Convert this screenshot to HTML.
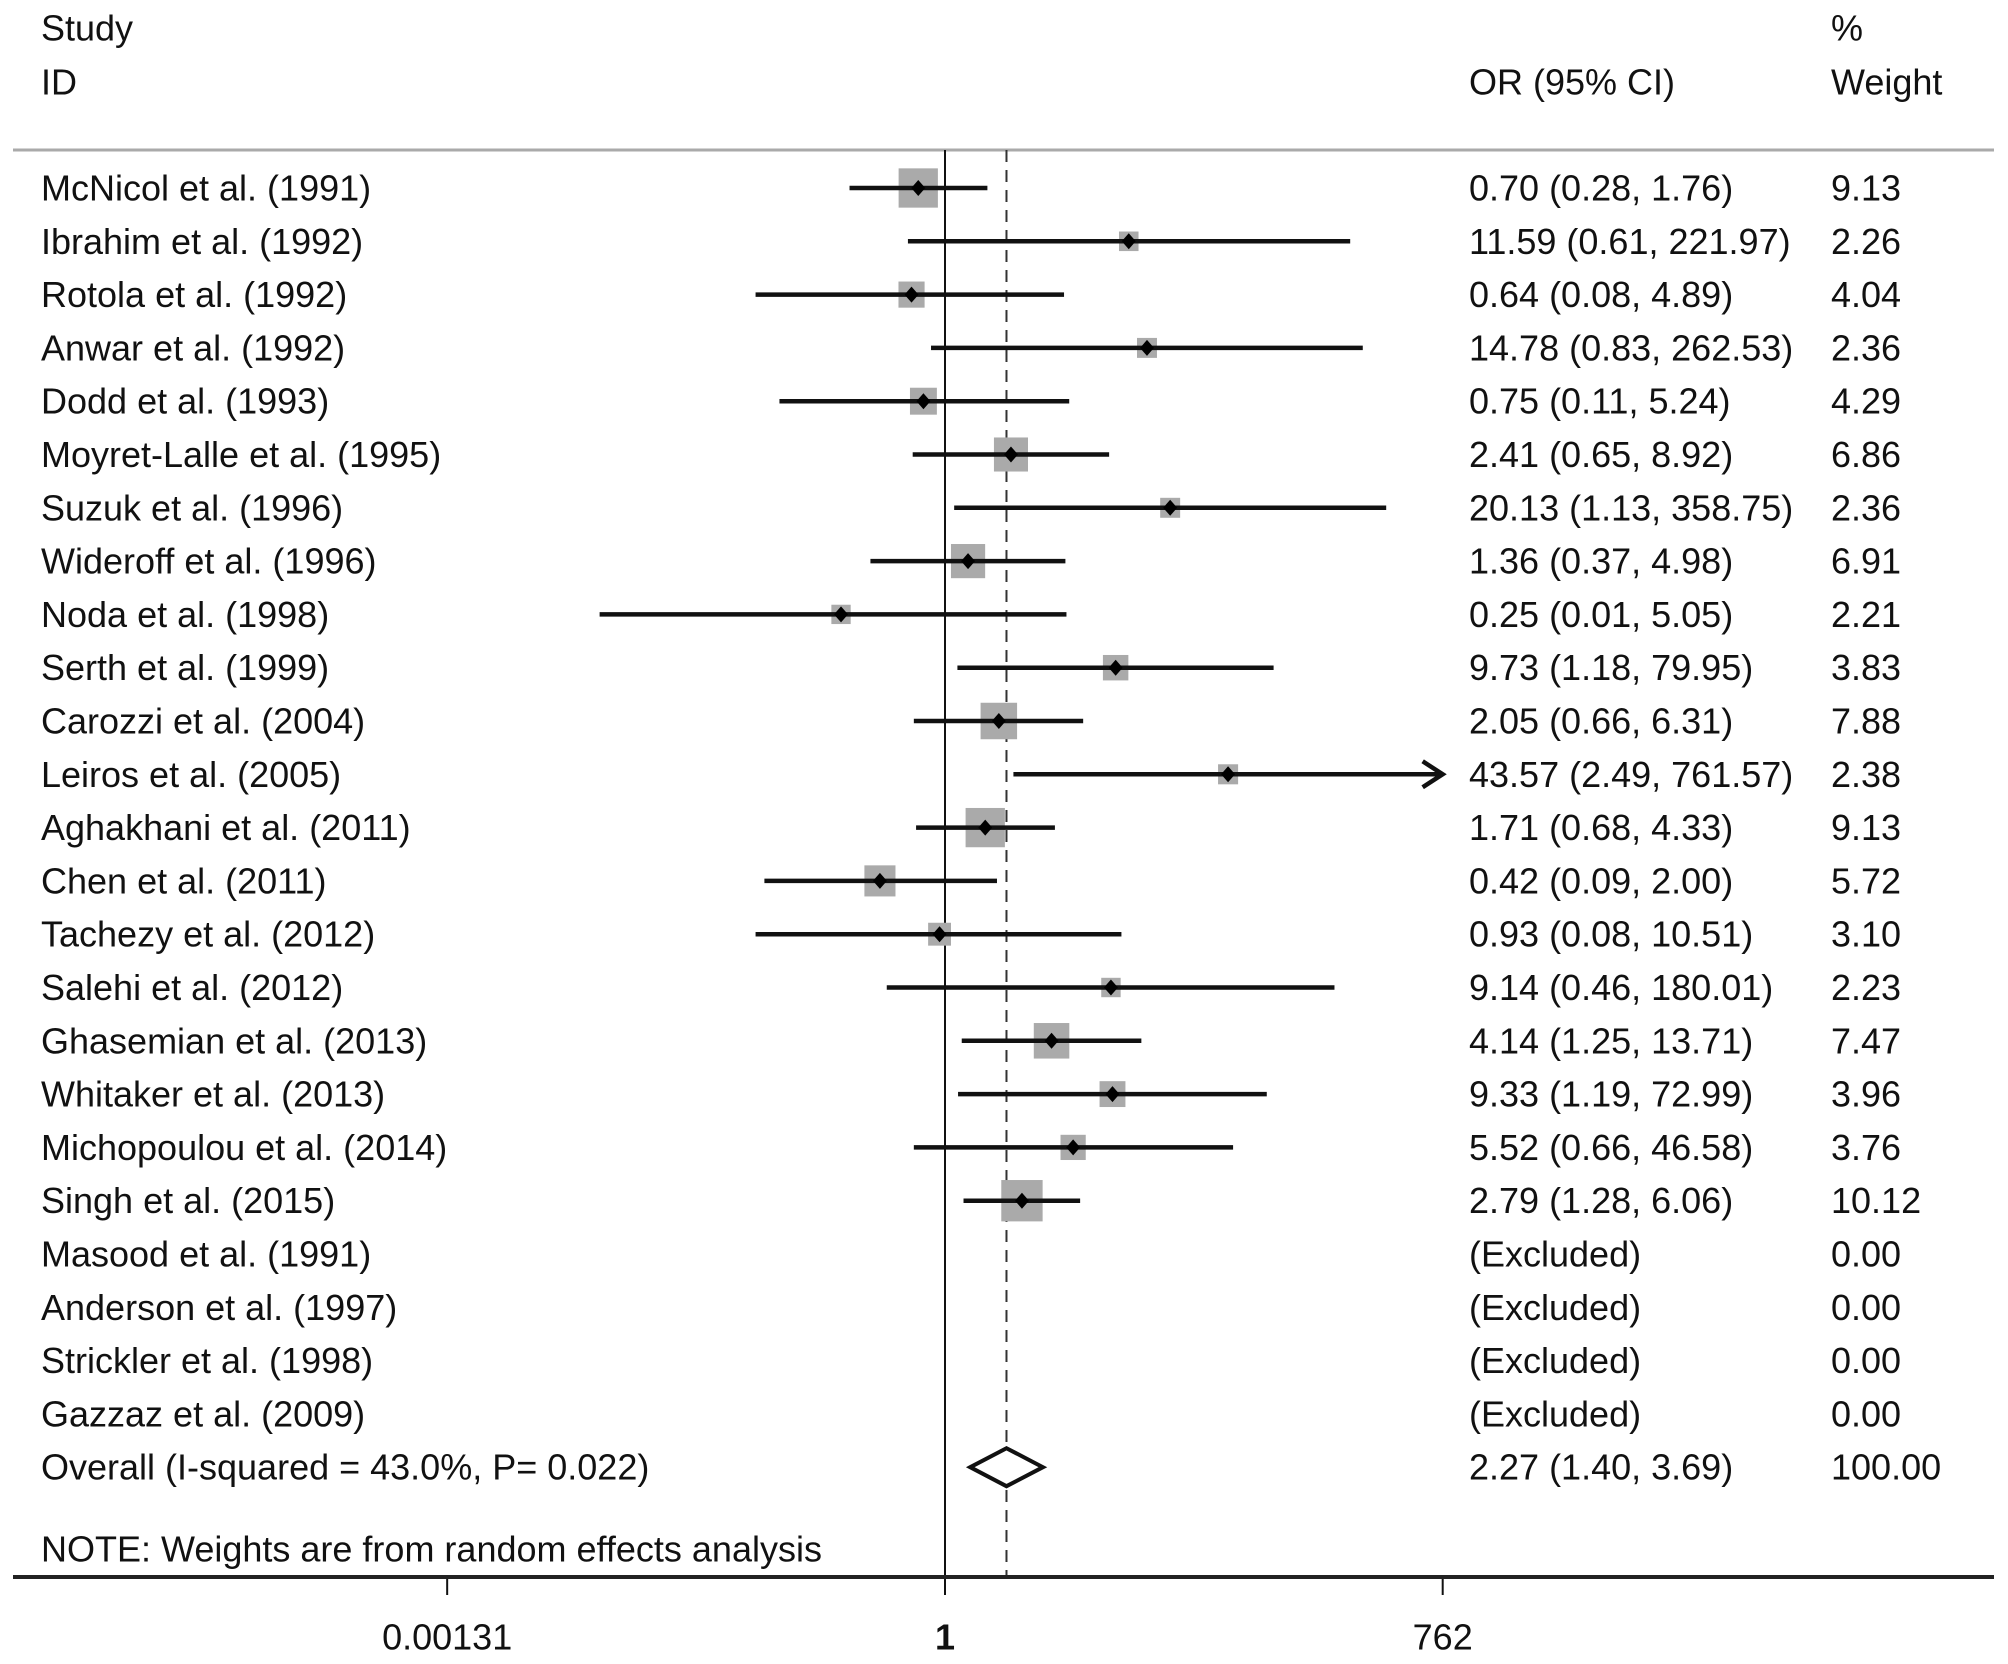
<!DOCTYPE html>
<html><head><meta charset="utf-8"><style>
html,body{margin:0;padding:0;background:#fff;}
svg{display:block;}
text{font-family:"Liberation Sans",Arial,sans-serif;font-size:36px;fill:#111;}
</style></head><body>
<svg id="chart" width="2008" height="1664" viewBox="0 0 2008 1664" xmlns="http://www.w3.org/2000/svg">
<text x="41" y="28" dominant-baseline="central">Study</text>
<text x="41" y="82" dominant-baseline="central">ID</text>
<text x="1469" y="82" dominant-baseline="central">OR (95% CI)</text>
<text x="1831" y="28" dominant-baseline="central">%</text>
<text x="1831" y="82" dominant-baseline="central">Weight</text>
<line x1="13" y1="150" x2="1994" y2="150" stroke="#aaa" stroke-width="3"/>
<g id="marks"></g>
<line x1="13" y1="1577" x2="1994" y2="1577" stroke="#222" stroke-width="4"/>
<text x="41" y="1549" dominant-baseline="central">NOTE: Weights are from random effects analysis</text>
</svg>
<script>
const studies = ["McNicol et al. (1991)","Ibrahim et al. (1992)","Rotola et al. (1992)","Anwar et al. (1992)","Dodd et al. (1993)","Moyret-Lalle et al. (1995)","Suzuk et al. (1996)","Wideroff et al. (1996)","Noda et al. (1998)","Serth et al. (1999)","Carozzi et al. (2004)","Leiros et al. (2005)","Aghakhani et al. (2011)","Chen et al. (2011)","Tachezy et al. (2012)","Salehi et al. (2012)","Ghasemian et al. (2013)","Whitaker et al. (2013)","Michopoulou et al. (2014)","Singh et al. (2015)","Masood et al. (1991)","Anderson et al. (1997)","Strickler et al. (1998)","Gazzaz et al. (2009)"];
const orValues = [0.70,11.59,0.64,14.78,0.75,2.41,20.13,1.36,0.25,9.73,2.05,43.57,1.71,0.42,0.93,9.14,4.14,9.33,5.52,2.79,null,null,null,null];
const lowerCI = [0.28,0.61,0.08,0.83,0.11,0.65,1.13,0.37,0.01,1.18,0.66,2.49,0.68,0.09,0.08,0.46,1.25,1.19,0.66,1.28,null,null,null,null];
const upperCI = [1.76,221.97,4.89,262.53,5.24,8.92,358.75,4.98,5.05,79.95,6.31,761.57,4.33,2.00,10.51,180.01,13.71,72.99,46.58,6.06,null,null,null,null];
const weights = [9.13,2.26,4.04,2.36,4.29,6.86,2.36,6.91,2.21,3.83,7.88,2.38,9.13,5.72,3.10,2.23,7.47,3.96,3.76,10.12,0.00,0.00,0.00,0.00];
const overallOR = 2.27, overallLo = 1.40, overallHi = 3.69;
const tickValues = [0.00131, 1, 762];
const tickLabels = ["0.00131","1","762"];

const NS = "http://www.w3.org/2000/svg";
const g = document.getElementById('marks');
const x = v => 945 + 75.0 * Math.log(v);
const xMax = x(762);
const rowY = i => 188 + i * 53.3;
function mk(tag, attrs){const e=document.createElementNS(NS,tag);for(const k in attrs)e.setAttribute(k,attrs[k]);g.appendChild(e);return e;}
function fmt(v){return v.toFixed(2);}

let l1 = mk('line',{x1:x(1),y1:150,x2:x(1),y2:1577,stroke:'#111','stroke-width':2});


let l2 = mk('line',{x1:x(overallOR),y1:150,x2:x(overallOR),y2:1577,stroke:'#333','stroke-width':2,'stroke-dasharray':'12,8'});



studies.forEach((s,i)=>{
  const y = rowY(i);
  const t = mk('text',{x:41,y:y,'dominant-baseline':'central'}); t.textContent = s;
  
  
  const o = mk('text',{x:1469,y:y,'dominant-baseline':'central'});
  o.textContent = orValues[i]==null ? "(Excluded)" : fmt(orValues[i])+" ("+fmt(lowerCI[i])+", "+fmt(upperCI[i])+")";
  
  
  const w = mk('text',{x:1831,y:y,'dominant-baseline':'central'}); w.textContent = fmt(weights[i]);
  
  
  if(orValues[i]==null) return;
  const side = 13*Math.sqrt(weights[i]);
  const cx = x(orValues[i]);
  const sq = mk('rect',{x:cx-side/2,y:y-side/2,width:side,height:side,fill:'#aaa'});
  
  
  const hi = Math.min(x(upperCI[i]), xMax);
  const ln = mk('line',{x1:x(lowerCI[i]),y1:y,x2:hi,y2:y,stroke:'#111','stroke-width':4.5});
  
  
  if(x(upperCI[i]) >= xMax - 2){
    const ar = mk('polyline',{points:(hi-20)+','+(y-13)+' '+hi+','+y+' '+(hi-20)+','+(y+13),fill:'none',stroke:'#111','stroke-width':4.5});
    
    
  }
  const pt = mk('polygon',{points:(cx-7)+','+y+' '+cx+','+(y-8)+' '+(cx+7)+','+y+' '+cx+','+(y+8),fill:'#000'});
  
  
});

const oy = rowY(24);
const ot = mk('text',{x:41,y:oy,'dominant-baseline':'central'}); ot.textContent = "Overall  (I-squared = 43.0%, P= 0.022)";
ot.setAttribute('xml:space','preserve');


const oo = mk('text',{x:1469,y:oy,'dominant-baseline':'central'}); oo.textContent = fmt(overallOR)+" ("+fmt(overallLo)+", "+fmt(overallHi)+")";


const ow = mk('text',{x:1831,y:oy,'dominant-baseline':'central'}); ow.textContent = "100.00";


const dm = mk('polygon',{points:x(overallLo)+','+oy+' '+x(overallOR)+','+(oy-19)+' '+x(overallHi)+','+oy+' '+x(overallOR)+','+(oy+19),fill:'#fff',stroke:'#111','stroke-width':4});



tickValues.forEach((v,i)=>{
  const tk = mk('line',{x1:x(v),y1:1577,x2:x(v),y2:1595,stroke:'#111','stroke-width':2});
  
  
  const tl = mk('text',{x:x(v),y:1637,'text-anchor':'middle','dominant-baseline':'central'});
  tl.textContent = tickLabels[i];
  if(v===1) tl.setAttribute('font-weight','bold');
  
  
});
</script>
</body></html>
